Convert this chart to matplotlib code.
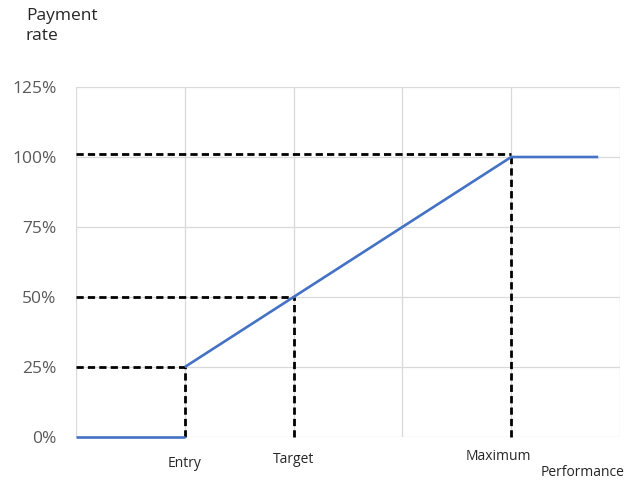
import matplotlib.pyplot as plt
from matplotlib.ticker import FuncFormatter

plt.rcParams["font.family"] = ["Open Sans", "DejaVu Sans"]

# payout curve: nothing below entry, linear from entry to maximum, then capped
below_x = [0, 1]
below_y = [0, 0]
curve_x = [1, 4, 4.8]
curve_y = [25, 100, 100]

# guide points (performance level, payment rate)
guide_names = ["Entry", "Target", "Maximum"]
guide_x = [1, 2, 4]
guide_y = [25, 50, 101]

y_ticks = [0, 25, 50, 75, 100, 125]
x_grid = [0, 1, 2, 3, 4, 5]

fig = plt.figure(figsize=(6.37, 4.82), dpi=100)
ax = fig.add_axes([76 / 637, 45 / 482, 544 / 637, 350 / 482])

ax.set_xlim(0, 5)
ax.set_ylim(0, 125)
ax.set_yticks(y_ticks)
ax.set_xticks(x_grid)
ax.yaxis.set_major_formatter(FuncFormatter(lambda v, _: f"{v:.0f}%"))
ax.set_xticklabels([])
ax.tick_params(length=0, labelsize=12.5, labelcolor="#595959", pad=14)
ax.grid(True, color="#d9d9d9", lw=0.9)
ax.set_axisbelow(True)
for s in ax.spines.values():
    s.set_visible(False)

dash = dict(color="black", lw=2.0, dashes=(2.6, 1.5), zorder=3,
            clip_on=False)
for gx, gy in zip(guide_x, guide_y):
    ax.plot([0, gx], [gy, gy], **dash)
    ax.plot([gx, gx], [0, gy], **dash)

line = dict(color="#4472c4", lw=1.9, zorder=4, solid_capstyle="butt",
            clip_on=False)
ax.plot(below_x, below_y, **line)
ax.plot(curve_x, curve_y, **line)

label_y = [-9.3, -8.0, -6.8]
label_dx = [0, 0, -0.12]
for name, gx, ly, dx in zip(guide_names, guide_x, label_y, label_dx):
    ax.text(gx + dx, ly, name, ha="center", va="center", fontsize=10,
            color="#262626", clip_on=False)

fig.text(541 / 637, 1 - 472 / 482, "Performance", ha="left", va="center",
         fontsize=10, color="#262626")
fig.text(26 / 637, 1 - 26 / 482, "Payment\nrate", ha="left", va="center",
         fontsize=12.5, color="#262626", linespacing=1.25)

fig.savefig("out.png", dpi=100)
